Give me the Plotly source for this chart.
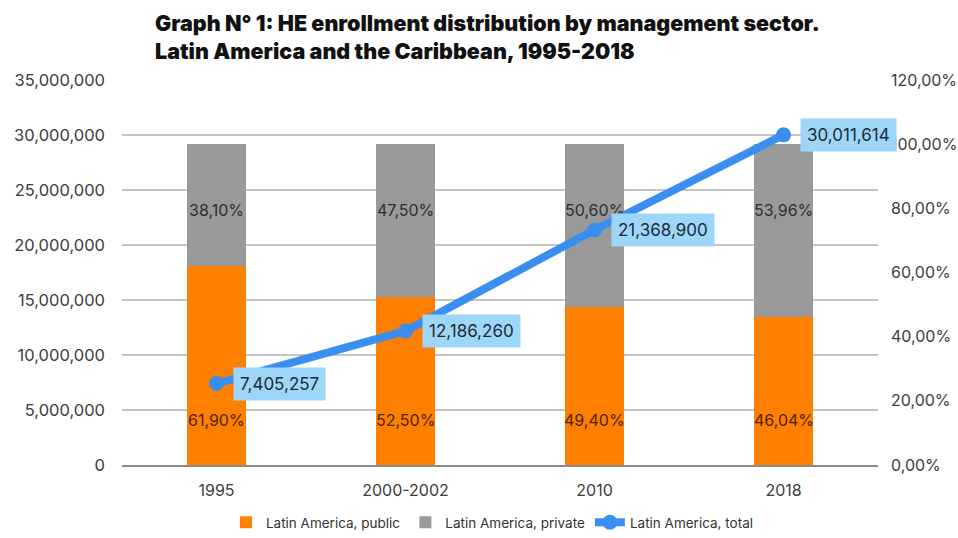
import plotly.graph_objects as go

# Enrollment data by management sector
periods = ["1995", "2000-2002", "2010", "2018"]
public_pct = [61.90, 52.50, 49.40, 46.04]
private_pct = [38.10, 47.50, 50.60, 53.96]
total_enrollment = [7405257, 12186260, 21368900, 30011614]

count_ticks = [0, 5000000, 10000000, 15000000, 20000000, 25000000, 30000000, 35000000]
count_tick_text = ["0", "5,000,000", "10,000,000", "15,000,000", "20,000,000",
                   "25,000,000", "30,000,000", "35,000,000"]
pct_ticks = [0, 20, 40, 60, 80, 100, 120]
pct_tick_text = ["0,00%", "20,00%", "40,00%", "60,00%", "80,00%", "100,00%", "120,00%"]

ORANGE = "#ff7f00"
GREY = "#999999"
BLUE = "#3a8ef0"
LABEL_BG = "#9dd6f8"
FONT = "Inter"
TICK_COLOR = "#3c3c3c"

# category positions on a numeric axis
xpos = list(range(len(periods)))


def pct_text(v):
    return f"{v:.2f}".replace(".", ",") + "%"


def count_text(v):
    return f"{v:,}"


fig = go.Figure()

fig.add_trace(go.Bar(
    x=xpos, y=public_pct, name="Latin America, public", width=0.316,
    marker=dict(color=ORANGE, line=dict(width=0)),
    yaxis="y", hoverinfo="skip",
))
fig.add_trace(go.Bar(
    x=xpos, y=private_pct, name="Latin America, private", width=0.316,
    marker=dict(color=GREY, line=dict(width=0)),
    yaxis="y", hoverinfo="skip",
))
fig.add_trace(go.Scatter(
    x=xpos, y=total_enrollment, name="Latin America, total",
    mode="lines+markers",
    line=dict(color=BLUE, width=8),
    marker=dict(color=BLUE, size=15),
    yaxis="y2", cliponaxis=False,
))

annotations = []
# Share labels inside the stacked bars
for xi, pub, priv in zip(xpos, public_pct, private_pct):
    annotations.append(dict(
        x=xi, y=14, xref="x", yref="y", text=pct_text(pub), showarrow=False,
        font=dict(family=FONT, size=16, color="#4a2300"),
    ))
    annotations.append(dict(
        x=xi, y=79.5, xref="x", yref="y", text=pct_text(priv), showarrow=False,
        font=dict(family=FONT, size=16, color="#2e2e2e"),
    ))

# Total enrollment callouts next to the line markers
for xi, tot in zip(xpos, total_enrollment):
    annotations.append(dict(
        x=xi, y=tot, xref="x", yref="y2", text=count_text(tot), showarrow=False,
        xanchor="left", xshift=16,
        font=dict(family=FONT, size=17, color="#1d2b36"),
        bgcolor=LABEL_BG, borderpad=6,
    ))

# Chart heading
annotations.append(dict(
    x=(153 - 122) / 756, y=1, xref="paper", yref="paper",
    xanchor="left", yanchor="bottom", yshift=14, align="left", showarrow=False,
    text="Graph N° 1: HE enrollment distribution by management sector.<br>"
         "Latin America and the Caribbean, 1995-2018",
    font=dict(family=FONT, size=21.5, color="#111111", weight=900),
))

fig.update_layout(
    width=958, height=538,
    margin=dict(l=122, r=80, t=80, b=73, autoexpand=False),
    paper_bgcolor="white", plot_bgcolor="white",
    barmode="stack",
    showlegend=True,
    legend=dict(
        orientation="h", x=0.49, xanchor="center",
        yref="container", y=-0.028, yanchor="bottom",
        font=dict(family=FONT, size=13.5, color="#333333"),
        itemwidth=30, traceorder="normal",
    ),
    xaxis=dict(
        range=[-0.5, 3.5], tickvals=xpos, ticktext=periods,
        showgrid=False, zeroline=False, showline=True,
        linecolor="#8a8a8a", linewidth=1.5,
        ticks="", tickfont=dict(family=FONT, size=16, color=TICK_COLOR),
        ticklabelstandoff=10,
    ),
    yaxis=dict(
        side="right", range=[0, 120], tickvals=pct_ticks, ticktext=pct_tick_text,
        showgrid=False, zeroline=False, showline=False,
        tickfont=dict(family=FONT, size=16, color=TICK_COLOR),
        ticklabelstandoff=12,
    ),
    yaxis2=dict(
        overlaying="y", side="left", range=[0, 35000000],
        tickvals=count_ticks, ticktext=count_tick_text,
        showgrid=True, gridcolor="#c4c4c4", gridwidth=1.5,
        zeroline=False, showline=False,
        tickfont=dict(family=FONT, size=16.5, color=TICK_COLOR),
        ticklabelstandoff=16,
    ),
    annotations=annotations,
)

fig.write_html("out.html")
